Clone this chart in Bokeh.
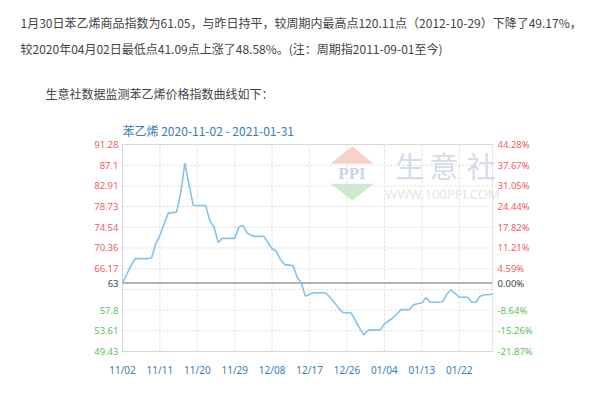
import pandas as pd
from bokeh.plotting import figure
from bokeh.models import (Range1d, FixedTicker, Label, ColumnDataSource, LinearAxis,
                          PolyAnnotation, BoxAnnotation, DatetimeTickFormatter)
from bokeh.embed import file_html
from bokeh.resources import INLINE

# ---------------- data ----------------
start_date = "2020-11-02"
end_date = "2021-01-30"
index_values = [
    63.27, 65.0, 66.7, 68.2, 68.2, 68.2, 68.2, 68.4, 71.2, 72.9,
    75.2, 77.4, 77.5, 77.6, 81.5, 87.5, 83.2, 79.0, 78.95, 78.95,
    78.95, 75.9, 74.6, 71.5, 72.3, 72.3, 72.3, 72.3, 74.6, 74.9,
    73.4, 72.9, 72.7, 72.7, 72.7, 71.4, 70.2, 69.7, 68.0, 67.0,
    66.9, 66.8, 64.5, 63.3, 60.6, 61.0, 61.3, 61.3, 61.3, 61.2,
    60.3, 59.3, 58.2, 57.3, 57.25, 57.25, 55.7, 54.2, 52.8, 53.7,
    53.8, 53.8, 53.8, 55.0, 55.6, 56.2, 57.0, 57.9, 57.9, 57.9,
    58.9, 59.1, 59.3, 60.3, 59.4, 59.4, 59.4, 59.5, 61.0, 61.9,
    61.2, 60.4, 60.4, 60.4, 59.4, 59.4, 60.6, 60.9, 60.9, 61.05,
]
dates = list(pd.date_range(start_date, periods=len(index_values), freq="D"))

base_value = 63.27
y_min, y_max = 49.43, 91.28
ygrid_values = [49.43, 53.61, 57.8, 61.98, 66.17, 70.36, 74.54, 78.73, 82.91, 87.1, 91.28]
red_ticks = [66.17, 70.36, 74.54, 78.73, 82.91, 87.1, 91.28]
red_left = ["66.17", "70.36", "74.54", "78.73", "82.91", "87.1", "91.28"]
red_right = ["4.59%", "11.21%", "17.82%", "24.44%", "31.05%", "37.67%", "44.28%"]
green_ticks = [49.43, 53.61, 57.8]
green_left = ["49.43", "53.61", "57.8"]
green_right = ["-21.87%", "-15.26%", "-8.64%"]
base_left = ["63"]
base_right = ["0.00%"]
xtick_dates = ["2020-11-02", "2020-11-11", "2020-11-20", "2020-11-29", "2020-12-08",
               "2020-12-17", "2020-12-26", "2021-01-04", "2021-01-13", "2021-01-22"]

header1 = "1月30日苯乙烯商品指数为61.05，与昨日持平，较周期内最高点120.11点（2012-10-29）下降了49.17%，"
header2 = "较2020年04月02日最低点41.09点上涨了48.58%。(注：周期指2011-09-01至今)"
header3 = "生意社数据监测苯乙烯价格指数曲线如下："
chart_title = "苯乙烯 2020-11-02 - 2021-01-31"

RED = "#f25c5c"
GREEN = "#5cbf5c"
GRAY = "#444444"
BLUE = "#3a7cb8"

# ---------------- layout of the plot area (pixels on the 584x384 canvas) ----------------
W, H = 584, 384
PX_LEFT, PX_RIGHT, PX_TOP, PX_BOTTOM = 122, 492, 144, 351

x0 = pd.Timestamp(start_date)
x1 = pd.Timestamp(end_date)
days_span = (x1 - x0) / pd.Timedelta(days=1)
px_per_day = (PX_RIGHT - PX_LEFT) / days_span
xr_start = x0 - pd.Timedelta(days=PX_LEFT / px_per_day)
xr_end = x0 + pd.Timedelta(days=(W - PX_LEFT) / px_per_day)
u_per_px = (y_max - y_min) / (PX_BOTTOM - PX_TOP)
yr_top = y_max + PX_TOP * u_per_px
yr_bottom = y_min - (H - PX_BOTTOM) * u_per_px

p = figure(width=W, height=H, x_axis_type="datetime", y_axis_location=None,
           x_range=Range1d(xr_start, xr_end), y_range=Range1d(yr_bottom, yr_top),
           output_backend="svg", toolbar_location=None,
           min_border=0, min_border_left=0, min_border_right=0,
           min_border_top=0, min_border_bottom=0)
p.background_fill_color = "white"
p.border_fill_color = "white"
p.outline_line_color = None
p.grid.visible = False

x0_ms = x0.value / 1e6
x1_ms = x1.value / 1e6

# x axis (fixed at the bottom of the plot area)
xt_ms = [pd.Timestamp(d).value / 1e6 for d in xtick_dates]
xa = p.xaxis[0]
xa.fixed_location = y_min
xa.ticker = FixedTicker(ticks=xt_ms)
xa.formatter = DatetimeTickFormatter(days="%m/%d", months="%m/%d")
xa.axis_line_color = None
xa.major_tick_line_color = None
xa.minor_tick_line_color = None
xa.major_tick_out = 0
xa.major_tick_in = 0
xa.major_label_standoff = 11
xa.major_label_text_color = BLUE
xa.major_label_text_font = "Noto Sans"
xa.major_label_text_font_size = "10px"

# y axes: one per label colour, on each side
def add_y_axis(side, loc, ticks, labels, color, standoff):
    ax = LinearAxis(fixed_location=loc, ticker=FixedTicker(ticks=ticks),
                    major_label_overrides={t: s for t, s in zip(ticks, labels)},
                    axis_line_color=None, major_tick_line_color=None,
                    minor_tick_line_color=None, major_tick_out=0, major_tick_in=0,
                    major_label_standoff=standoff, major_label_text_color=color,
                    major_label_text_font="Noto Sans", major_label_text_font_size="9.5px")
    p.add_layout(ax, side)

for ticks, ll, rl, col in [(red_ticks, red_left, red_right, RED),
                           (green_ticks, green_left, green_right, GREEN),
                           ([base_value], base_left, base_right, GRAY)]:
    add_y_axis("left", x0_ms, ticks, ll, col, 4)
    add_y_axis("right", x1_ms, ticks, rl, col, 5)

# ---------------- watermark ----------------
def sx(px):
    return px

def sy(py):
    return H - py

p.add_layout(PolyAnnotation(xs=[sx(351.7), sx(330), sx(373.3)], ys=[sy(145.7), sy(163.3), sy(163.3)],
                            xs_units="screen", ys_units="screen",
                            fill_color="#f8d2ca", fill_alpha=1, line_color=None, level="image"))
p.add_layout(PolyAnnotation(xs=[sx(330), sx(373.3), sx(351.7)], ys=[sy(183.3), sy(183.3), sy(200)],
                            xs_units="screen", ys_units="screen",
                            fill_color="#cfe9cf", fill_alpha=1, line_color=None, level="image"))
p.add_layout(Label(x=sx(351.5), y=sy(173), x_units="screen", y_units="screen", text="PPI",
                   text_align="center", text_baseline="middle", text_font="Liberation Serif",
                   text_font_size="17px", text_font_style="bold", text_color="#cbd5e8", level="image"))
for ch, cx in zip(["生", "意", "社"], [409.3, 443.3, 480.7]):
    p.add_layout(Label(x=sx(cx), y=sy(164.3), x_units="screen", y_units="screen", text=ch,
                       text_align="center", text_baseline="middle", text_font="Noto Sans CJK SC",
                       text_font_size="29px", text_color="#d5dbe8", level="image"))
p.add_layout(Label(x=sx(442), y=sy(193), x_units="screen", y_units="screen", text="WWW.100PPI.COM",
                   text_align="center", text_baseline="middle", text_font="Noto Sans",
                   text_font_size="13px", text_color="#e6e6e6", level="image"))

# ---------------- grid, frame, baseline ----------------
p.segment(x0=xt_ms, y0=[y_min] * len(xt_ms), x1=xt_ms, y1=[y_max] * len(xt_ms),
          line_color="#d9d9d9", line_dash="2 2", line_width=1)
p.segment(x0=[x0_ms] * len(ygrid_values), y0=ygrid_values, x1=[x1_ms] * len(ygrid_values),
          y1=ygrid_values, line_color="#d9d9d9", line_dash="2 2", line_width=1)
p.segment(x0=[x0_ms], y0=[base_value], x1=[x1_ms], y1=[base_value],
          line_color="#b4b4b4", line_width=2)

# ---------------- data line ----------------
src = ColumnDataSource(dict(date=dates, v=index_values))
p.line("date", "v", source=src, line_color="#86c2ea", line_width=1.6)

p.add_layout(BoxAnnotation(left=x0_ms, right=x1_ms, bottom=y_min, top=y_max,
                           fill_alpha=0, line_color="#a8a8a8", line_width=1))

# ---------------- texts ----------------
p.add_layout(Label(x=sx(122), y=sy(130), x_units="screen", y_units="screen", text=chart_title,
                   text_align="left", text_baseline="middle", text_font="Noto Sans CJK SC",
                   text_font_size="12px", text_color=BLUE))
for txt, tx, ty in [(header1, 20, 22), (header2, 20, 48), (header3, 45, 93)]:
    p.add_layout(Label(x=sx(tx), y=sy(ty), x_units="screen", y_units="screen", text=txt,
                       text_align="left", text_baseline="middle", text_font="Noto Sans CJK SC",
                       text_font_size="12px", text_color="#444444"))

open("out.html", "w").write(file_html(p, INLINE))
